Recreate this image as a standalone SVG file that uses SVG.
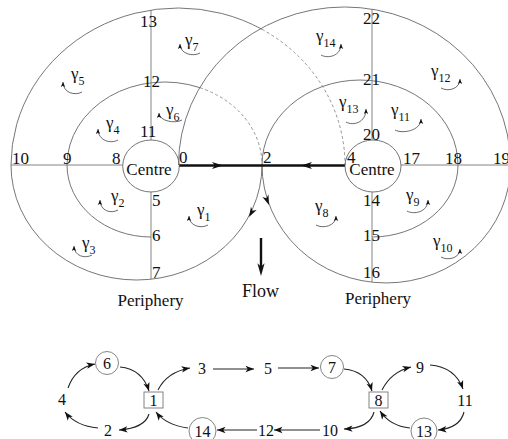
<svg xmlns="http://www.w3.org/2000/svg" xmlns:xlink="http://www.w3.org/1999/xlink" width="508" height="439" viewBox="0 0 508 439">
<style>
  text { font-family: "Liberation Serif", "Times New Roman", serif; fill: #111; }
  .lbl { font-size: 17px; }
  .g { font-size: 17px; }
  .sub { font-size: 12px; }
  .arc { fill: none; stroke: #666; stroke-width: 0.9; }
  .dash { fill: none; stroke: #888; stroke-width: 0.9; stroke-dasharray: 3 2.5; }
  .thin { fill: none; stroke: #777; stroke-width: 0.9; }
  .thick { fill: none; stroke: #111; stroke-width: 2.4; }
  .garr { fill: none; stroke: #444; stroke-width: 0.8; marker-end: url(#sm); }
  .edge { fill: none; stroke: #222; stroke-width: 1.1; marker-end: url(#ea); }
  .node { fill: none; stroke: #777; stroke-width: 0.9; }
  .gt { font-size: 16px; text-anchor: middle; }
</style>
<defs>
  <marker id="sm" markerUnits="userSpaceOnUse" markerWidth="7" markerHeight="6" viewBox="-6 -3 7 6" refX="0" refY="0" orient="auto">
    <path d="M0,0 L-5,-2.2 L-3.8,0 L-5,2.2 Z" fill="#111"/>
  </marker>
  <marker id="ea" markerUnits="userSpaceOnUse" markerWidth="10" markerHeight="8" viewBox="-9 -4 10 8" refX="0" refY="0" orient="auto">
    <path d="M0,0 L-8.5,-3.2 L-6.3,0 L-8.5,3.2 Z" fill="#111"/>
  </marker>
  <path id="ah" d="M0,0 L-11,-3.6 L-8,0 L-11,3.6 Z" fill="#111"/>
</defs>

<g id="connectors">
  <!-- left system -->
  <path class="arc" d="M11,165 A167,157 0 0 1 262,29.3"/>
  <path class="dash" d="M262,29.3 A167,157 0 0 1 345,165"/>
  <path class="arc" d="M67,165 A97.5,83 0 0 1 200,87.7"/>
  <path class="dash" d="M200,87.7 A97.5,83 0 0 1 262,165"/>
  <path class="arc" d="M11,165 A125.5,115 0 0 0 262,165"/>
  <path class="arc" d="M67,165 A84,72 0 0 0 151,237"/>
  <line class="thin" x1="11" y1="165" x2="122.5" y2="165"/>
  <line class="thin" x1="151" y1="10" x2="151" y2="140"/>
  <line class="thin" x1="151" y1="192" x2="151" y2="279"/>
  <!-- right system -->
  <path class="arc" d="M178.5,165 A166,158 0 0 1 510.5,165"/>
  <path class="arc" d="M262,165 A98,85 0 0 1 458,165"/>
  <path class="arc" d="M262,165 A124.25,118 0 0 0 510.5,165"/>
  <path class="arc" d="M458,165 A86,72 0 0 1 372,237"/>
  <line class="thin" x1="401" y1="165" x2="508" y2="165"/>
  <line class="thin" x1="372" y1="9" x2="372" y2="140"/>
  <line class="thin" x1="372" y1="192" x2="372" y2="282"/>
  <!-- thick flow lines -->
  <line class="thick" x1="179" y1="165.5" x2="345" y2="165.5"/>
  <use xlink:href="#ah" href="#ah" transform="translate(223,165.5)"/>
  <use xlink:href="#ah" href="#ah" transform="translate(301,165.5) rotate(180)"/>
  <line class="thick" x1="261" y1="238" x2="261" y2="268"/>
  <use xlink:href="#ah" href="#ah" transform="translate(261,276) rotate(90) scale(1.15,1)"/>
  <use xlink:href="#ah" href="#ah" transform="translate(249,217) rotate(119) scale(0.9)"/>
  <use xlink:href="#ah" href="#ah" transform="translate(269,205) rotate(69) scale(0.9)"/>
  <!-- gamma circulation arrows, left -->
  <path class="garr" d="M200,53 C193,57 180,54 180,44"/>
  <path class="garr" d="M82,92 C75,96 63,93 63,82"/>
  <path class="garr" d="M182,120 C175,124 159,121 159,113"/>
  <path class="garr" d="M118,140 C111,144 98,141 98,129"/>
  <path class="garr" d="M118,210 C111,214 100,211 100,200"/>
  <path class="garr" d="M208,225 C201,229 189,226 189,216"/>
  <path class="garr" d="M92,255 C85,259 74,256 74,246"/>
  <!-- gamma circulation arrows, right -->
  <path class="garr" d="M321,55 C328,59 341,56 341,44"/>
  <path class="garr" d="M441,88 C448,92 460,89 460,79"/>
  <path class="garr" d="M346,122 C353,126 366,123 366,109"/>
  <path class="garr" d="M395,130 C402,134 421,131 421,119"/>
  <path class="garr" d="M316,225 C323,229 336,226 336,216"/>
  <path class="garr" d="M407,211 C414,215 428,212 428,200"/>
  <path class="garr" d="M441,257 C448,261 460,258 460,249"/>
  <!-- bottom graph edges -->
  <path class="edge" d="M68,388 Q75,368 95,364"/>
  <path class="edge" d="M120,367 Q142,369 149,391"/>
  <path class="edge" d="M158,390 Q167,372 190,368"/>
  <path class="edge" d="M213,369 L254,369"/>
  <path class="edge" d="M278,368 L319,368"/>
  <path class="edge" d="M344,369 Q366,371 372,391"/>
  <path class="edge" d="M382,390 Q391,372 411,367"/>
  <path class="edge" d="M430,365 Q455,367 463,389"/>
  <path class="edge" d="M464,412 Q460,428 438,430"/>
  <path class="edge" d="M410,428 Q390,426 380,411"/>
  <path class="edge" d="M374,412 Q370,428 344,429"/>
  <path class="edge" d="M320,430 L274,430"/>
  <path class="edge" d="M257,430 L217,430"/>
  <path class="edge" d="M188,428 Q166,425 156,412"/>
  <path class="edge" d="M149,414 Q145,428 119,430"/>
  <path class="edge" d="M98,428 Q76,426 65,412"/>
</g>

<g id="centre-left">
  <ellipse class="arc" cx="151" cy="166" rx="28.3" ry="26"/>
  <text class="lbl" x="149" y="175" text-anchor="middle">Centre</text>
</g>
<g id="centre-right">
  <ellipse class="arc" cx="373" cy="166" rx="28" ry="26"/>
  <text class="lbl" x="372" y="175" text-anchor="middle">Centre</text>
</g>

<g id="point-labels">
  <text class="lbl" x="140" y="27">13</text>
  <text class="lbl" x="143" y="87">12</text>
  <text class="lbl" x="140" y="137">11</text>
  <text class="lbl" x="12" y="164">10</text>
  <text class="lbl" x="63" y="164">9</text>
  <text class="lbl" x="112" y="164">8</text>
  <text class="lbl" x="179" y="163">0</text>
  <text class="lbl" x="152" y="206">5</text>
  <text class="lbl" x="152" y="241">6</text>
  <text class="lbl" x="152" y="278">7</text>
  <text class="lbl" x="363" y="24">22</text>
  <text class="lbl" x="363" y="85">21</text>
  <text class="lbl" x="363" y="140">20</text>
  <text class="lbl" x="347" y="163">4</text>
  <text class="lbl" x="263" y="163">2</text>
  <text class="lbl" x="403" y="164">17</text>
  <text class="lbl" x="445" y="164">18</text>
  <text class="lbl" x="493" y="164">19</text>
  <text class="lbl" x="363" y="206">14</text>
  <text class="lbl" x="363" y="241">15</text>
  <text class="lbl" x="363" y="278">16</text>
</g>

<g id="periphery-left"><text class="lbl" x="150.5" y="306" text-anchor="middle">Periphery</text></g>
<g id="periphery-right"><text class="lbl" x="378" y="304" text-anchor="middle">Periphery</text></g>
<g id="flow-label"><text x="260.5" y="297" text-anchor="middle" font-size="18">Flow</text></g>

<g id="gammas">
  <text class="g" x="185" y="45">γ<tspan class="sub" dy="6">7</tspan></text>
  <text class="g" x="71" y="79">γ<tspan class="sub" dy="6">5</tspan></text>
  <text class="g" x="166" y="115">γ<tspan class="sub" dy="6">6</tspan></text>
  <text class="g" x="106" y="128">γ<tspan class="sub" dy="6">4</tspan></text>
  <text class="g" x="111" y="201">γ<tspan class="sub" dy="6">2</tspan></text>
  <text class="g" x="197" y="215">γ<tspan class="sub" dy="6">1</tspan></text>
  <text class="g" x="82" y="248">γ<tspan class="sub" dy="6">3</tspan></text>
  <text class="g" x="316" y="41">γ<tspan class="sub" dy="6">14</tspan></text>
  <text class="g" x="431" y="76">γ<tspan class="sub" dy="6">12</tspan></text>
  <text class="g" x="339" y="107">γ<tspan class="sub" dy="6">13</tspan></text>
  <text class="g" x="391" y="115">γ<tspan class="sub" dy="6">11</tspan></text>
  <text class="g" x="315" y="211">γ<tspan class="sub" dy="6">8</tspan></text>
  <text class="g" x="406" y="200">γ<tspan class="sub" dy="6">9</tspan></text>
  <text class="g" x="433" y="246">γ<tspan class="sub" dy="6">10</tspan></text>
</g>

<g id="n4"><text class="gt" x="62" y="405">4</text></g>
<g id="n6"><circle class="node" cx="107" cy="363" r="11.5"/><text class="gt" x="107" y="369">6</text></g>
<g id="n1"><rect class="node" x="144" y="392" width="19" height="16"/><text class="gt" x="153.5" y="406">1</text></g>
<g id="n2"><text class="gt" x="108" y="436">2</text></g>
<g id="n3"><text class="gt" x="202" y="374">3</text></g>
<g id="n5"><text class="gt" x="268" y="374">5</text></g>
<g id="n7"><circle class="node" cx="332" cy="367" r="11.5"/><text class="gt" x="332" y="373">7</text></g>
<g id="n8"><rect class="node" x="369" y="392" width="19" height="16"/><text class="gt" x="378.5" y="406">8</text></g>
<g id="n9"><text class="gt" x="420" y="373">9</text></g>
<g id="n11"><text class="gt" x="465" y="406">11</text></g>
<g id="n13"><circle class="node" cx="424" cy="431" r="13"/><text class="gt" x="424" y="437">13</text></g>
<g id="n10"><text class="gt" x="330" y="436">10</text></g>
<g id="n12"><text class="gt" x="266" y="436">12</text></g>
<g id="n14"><circle class="node" cx="202.5" cy="431" r="13.5"/><text class="gt" x="202.5" y="437">14</text></g>
</svg>
